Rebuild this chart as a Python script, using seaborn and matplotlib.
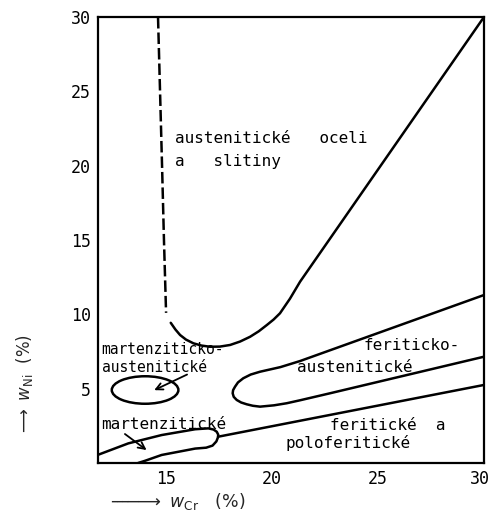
import matplotlib
matplotlib.use("Agg")
import matplotlib.pyplot as plt
import matplotlib.transforms as mtransforms
from matplotlib.patches import Ellipse
import seaborn as sns

# ---- data (w_Cr %, w_Ni %) ----
aust_dash_cr = [14.63, 14.82, 14.91, 15.01]
aust_dash_ni = [30.0, 20.0, 15.0, 10.1]

aust_solid_cr = [15.23, 15.45, 15.67, 15.95, 16.30, 16.68, 17.08, 17.55, 18.03, 18.50,
                 18.97, 19.38, 19.76, 20.08, 20.38, 20.85, 21.33, 30.0]
aust_solid_ni = [9.43, 8.98, 8.61, 8.30, 8.05, 7.90, 7.82, 7.83, 7.94, 8.17,
                 8.49, 8.86, 9.28, 9.65, 10.07, 11.05, 12.20, 30.0]

band_cr = [30.0, 21.33, 20.40, 19.44, 19.00, 18.65, 18.40, 18.26, 18.17, 18.15, 18.20,
           18.34, 18.55, 18.81, 19.10, 19.44, 20.10, 20.70, 21.33, 22.74, 30.0]
band_ni = [11.3, 6.86, 6.45, 6.14, 5.95, 5.70, 5.42, 5.13, 4.90, 4.69, 4.45,
           4.24, 4.07, 3.95, 3.85, 3.79, 3.88, 4.02, 4.22, 4.69, 7.15]

mart_cr = [11.8, 13.23, 14.8, 16.38, 17.0, 17.25, 17.40, 17.47, 17.45, 17.38, 17.20,
           16.90, 16.38, 14.8, 14.02, 13.69]
mart_ni = [0.55, 1.32, 1.88, 2.27, 2.33, 2.25, 2.10, 1.90, 1.70, 1.45, 1.17,
           1.03, 0.97, 0.54, 0.15, 0.0]

fer_cr = [17.47, 30.0]
fer_ni = [1.77, 5.25]

ma_ellipse_center = (14.02, 4.91)
ma_ellipse_size = (3.14, 1.85)

x_ticks = [15, 20, 25, 30]
y_ticks = [5, 10, 15, 20, 25, 30]

labels = [
    ("austenitické   oceli", 15.43, 21.52, 11.5),
    ("a   slitiny", 15.43, 19.95, 11.5),
    ("martenziticko-", 11.97, 7.32, 10.5),
    ("austenitické", 11.97, 6.15, 10.5),
    ("martenzitické", 11.97, 2.30, 11.5),
    ("feriticko-", 24.31, 7.60, 11.5),
    ("austenitické", 21.17, 6.14, 11.5),
    ("feritické  a", 22.74, 2.22, 11.5),
    ("poloferitické", 20.62, 0.98, 11.5),
]

arrows = [
    ((16.0, 5.95), (14.45, 4.9)),
    ((13.07, 1.95), (14.09, 0.87)),
]

# ---- drawing ----
sns.set_style("white")
plt.rcParams["font.family"] = ["DejaVu Sans Mono", "DejaVu Sans"]
plt.rcParams["mathtext.fontset"] = "dejavusans"

fig = plt.figure(figsize=(4.91, 5.13), dpi=100)
ax = fig.add_axes([98 / 491, 1 - 463 / 513, 386 / 491, 446 / 513])

lw = 1.8
kw = dict(color="black", linewidth=lw, sort=False, estimator=None, ax=ax, legend=False)
sns.lineplot(x=aust_dash_cr, y=aust_dash_ni, linestyle=(0, (4.6, 1.6)), **kw)
sns.lineplot(x=aust_solid_cr, y=aust_solid_ni, **kw)
sns.lineplot(x=band_cr, y=band_ni, **kw)
sns.lineplot(x=mart_cr, y=mart_ni, **kw)
sns.lineplot(x=fer_cr, y=fer_ni, **kw)

ax.add_patch(Ellipse(ma_ellipse_center, ma_ellipse_size[0], ma_ellipse_size[1],
                     fill=False, edgecolor="black", linewidth=lw))

for (x0, y0), (x1, y1) in arrows:
    ax.annotate("", xy=(x1, y1), xytext=(x0, y0),
                arrowprops=dict(arrowstyle="->", color="black", lw=1.3,
                                mutation_scale=12, shrinkA=0, shrinkB=0))

for txt, x, y, fs in labels:
    ax.text(x, y, txt, fontsize=fs, ha="left", va="baseline", color="black")

ax.set_xlim(11.8, 30)
ax.set_ylim(0, 30)
ax.set_xticks(x_ticks)
ax.set_yticks(y_ticks)
ax.set_xticklabels([str(t) for t in x_ticks])
ax.set_yticklabels([str(t) for t in y_ticks])
ax.tick_params(axis="both", direction="in", colors="black", width=1.5, labelsize=12)
ax.tick_params(axis="x", length=5, pad=5)
ax.tick_params(axis="y", length=7, pad=5)
for s in ax.spines.values():
    s.set_visible(True)
    s.set_color("black")
    s.set_linewidth(1.6)

# keep the last x tick label inside the figure
last = ax.get_xticklabels()[-1]
last.set_ha("right")
last.set_transform(last.get_transform() +
                   mtransforms.ScaledTranslation(6 / 100, 0, fig.dpi_scale_trans))

ax.set_xlabel(r"$-\!\!\!\!-\!\!\!\!-\!\!\!\!\longrightarrow\ w_{\mathrm{Cr}}\ \ \ (\%)$",
              fontsize=12.5, va="center")
ax.xaxis.set_label_coords(0.205, -0.087)
ax.set_ylabel(r"$\longrightarrow\ w_{\mathrm{Ni}}\ \ (\%)$", fontsize=12, va="center")
ax.yaxis.set_label_coords(-0.19, 0.175)

fig.savefig("out.png", dpi=100, facecolor="white")
